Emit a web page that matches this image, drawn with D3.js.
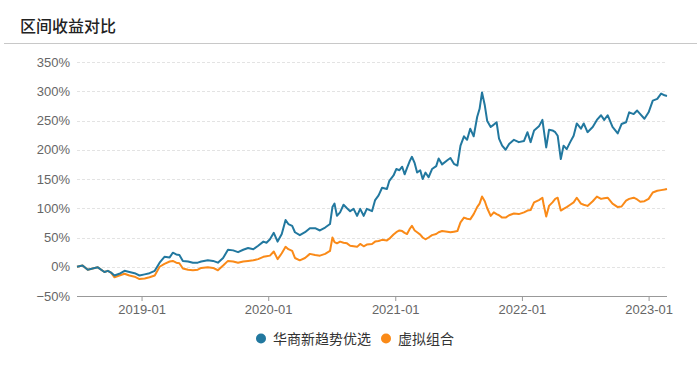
<!DOCTYPE html>
<html><head><meta charset="utf-8">
<script src="https://cdn.jsdelivr.net/npm/d3@7/dist/d3.min.js"></script>
<style>
html,body{margin:0;padding:0;background:#fff;}
svg{display:block;font-family:"Liberation Sans","Noto Sans CJK SC",Arial,sans-serif;}
</style></head>
<body>
<svg id="chart" width="697" height="366"></svg>
<script>
const title = "区间收益对比";
const seriesNames = ["华商新趋势优选", "虚拟组合"];
const seriesColors = ["#22789f", "#fa8a18"];
const yTicks = [-50, 0, 50, 100, 150, 200, 250, 300, 350];
const xTickLabels = ["2019-01", "2020-01", "2021-01", "2022-01", "2023-01"];

const dates = [
"2018-06-29","2018-07-15","2018-07-30","2018-08-13","2018-08-28","2018-09-16","2018-09-26","2018-10-05","2018-10-15","2018-10-29",
"2018-11-13","2018-11-27","2018-12-12","2018-12-26","2019-01-10","2019-01-24","2019-02-08","2019-02-22","2019-03-08","2019-03-23",
"2019-04-01","2019-04-11","2019-04-20","2019-04-30","2019-05-15","2019-05-29","2019-06-12","2019-06-22","2019-07-11","2019-07-26",
"2019-08-09","2019-08-24","2019-09-07","2019-09-22","2019-10-06","2019-10-21","2019-11-04","2019-11-19","2019-12-03","2019-12-18",
"2019-12-27","2020-01-06","2020-01-17","2020-01-28","2020-02-09","2020-02-20","2020-02-28","2020-03-10","2020-03-18","2020-04-01",
"2020-04-16","2020-04-30","2020-05-15","2020-05-29","2020-06-13","2020-06-27","2020-07-04","2020-07-10","2020-07-17","2020-07-26",
"2020-08-05","2020-08-15","2020-08-24","2020-09-03","2020-09-13","2020-09-22","2020-10-02","2020-10-11","2020-10-26","2020-11-04",
"2020-11-14","2020-11-24","2020-12-08","2020-12-15","2020-12-27","2021-01-04","2021-01-13","2021-01-21","2021-01-28","2021-02-04",
"2021-02-12","2021-02-18","2021-02-26","2021-03-05","2021-03-14","2021-03-21","2021-03-29","2021-04-07","2021-04-17","2021-04-29",
"2021-05-06","2021-05-16","2021-05-31","2021-06-09","2021-06-19","2021-06-29","2021-07-08","2021-07-18","2021-07-27","2021-08-05",
"2021-08-15","2021-08-25","2021-09-01","2021-09-08","2021-09-16","2021-09-23","2021-10-03","2021-10-12","2021-10-20","2021-10-27",
"2021-11-05","2021-11-15","2021-11-25","2021-12-09","2021-12-23","2022-01-07","2022-01-17","2022-01-26","2022-02-05","2022-02-19",
"2022-03-01","2022-03-05","2022-03-12","2022-03-20","2022-03-30","2022-04-07","2022-04-14","2022-04-23","2022-05-01","2022-05-10",
"2022-05-20","2022-05-30","2022-06-08","2022-06-20","2022-06-28","2022-07-09","2022-07-24","2022-08-05","2022-08-17","2022-08-26",
"2022-09-05","2022-09-19","2022-10-04","2022-10-15","2022-10-28","2022-11-06","2022-11-19","2022-11-29","2022-12-08","2022-12-20",
"2023-01-01","2023-01-13","2023-01-26","2023-02-06","2023-02-16","2023-02-23"
];

const fundValues = [
0,2,-5,-3,-1,-9,-7,-10,-15,-12,
-7,-9,-11,-15,-13,-11,-7,7,17,16,
24,21,20,10,9,7,7,9,11,10,
7,15,29,28,25,29,32,30,36,43,
41,47,58,43,56,80,73,70,59,54,
59,66,66,62,67,73,102,108,87,93,
106,100,95,99,87,99,87,99,95,114,
122,135,133,147,156,167,165,171,158,169,
181,188,177,161,165,150,161,153,167,172,
185,175,182,186,176,173,207,223,217,236,
223,256,270,298,276,249,239,243,247,219,
207,200,210,217,213,215,230,213,233,240,
251,234,204,234,233,230,224,184,207,201,
213,224,245,236,245,230,239,251,259,251,
259,239,228,244,247,264,261,267,261,253,
264,284,287,296,293,292
];

const virtualValues = [
0,2,-5,-3,-1,-9,-7,-10,-18,-15,
-12,-15,-17,-21,-20,-18,-15,0,5,9,
10,7,6,-3,-5,-6,-5,-2,-1,-2,
-6,2,10,9,7,9,10,11,13,17,
18,19,26,13,23,34,30,27,15,11,
15,22,20,19,22,27,50,42,40,43,
41,40,36,35,34,39,35,38,39,43,
44,46,45,48,55,59,62,61,58,56,
65,70,62,59,55,50,47,50,54,56,
59,61,60,59,60,61,76,84,82,81,
90,102,108,120,112,100,87,93,90,88,
84,84,88,91,90,93,96,97,110,114,
118,105,86,104,110,116,118,96,99,102,
106,110,118,108,106,104,112,120,116,117,
118,108,102,103,113,116,118,115,111,112,
116,127,130,131,132,133
];

const parse = d3.timeParse("%Y-%m-%d");
const data = dates.map((d, i) => ({date: parse(d), a: fundValues[i], b: virtualValues[i]}));

const svg = d3.select("#chart");
const margin = {left: 77, right: 667, top: 62, bottom: 296};

// title
svg.append("text").attr("x", 20).attr("y", 32)
  .attr("font-size", 16).attr("font-weight", 500).attr("fill", "#222")
  .attr("font-family", "'Noto Sans CJK SC', sans-serif")
  .text(title);
svg.append("line").attr("x1", 4).attr("x2", 697).attr("y1", 43.5).attr("y2", 43.5)
  .attr("stroke", "#c8c8c8").attr("stroke-width", 1);

const x = d3.scaleTime().domain(d3.extent(data, d => d.date)).range([margin.left, margin.right]);
const y = d3.scaleLinear().domain([-50, 350]).range([margin.bottom, margin.top]);

// grid
svg.append("g").selectAll("line").data(yTicks.filter(t => t !== -50)).join("line")
  .attr("x1", margin.left).attr("x2", margin.right)
  .attr("y1", d => Math.round(y(d)) + 0.5).attr("y2", d => Math.round(y(d)) + 0.5)
  .attr("stroke", "#e3e3e3").attr("stroke-dasharray", "3,2");

// y axis labels
const yAxis = d3.axisLeft(y).tickValues(yTicks).tickSize(0).tickPadding(7)
  .tickFormat(d => (d < 0 ? "\u2212" + Math.abs(d) : d) + "%");
const gy = svg.append("g").attr("transform", `translate(${margin.left},0)`).call(yAxis);
gy.select(".domain").remove();
gy.selectAll("text").attr("font-size", 13).attr("fill", "#666")
  .attr("font-family", "'Liberation Sans', Arial, sans-serif");

// x axis
const xTickDates = xTickLabels.map(s => parse(s + "-01"));
const xAxis = d3.axisBottom(x).tickValues(xTickDates).tickSize(5).tickPadding(4)
  .tickFormat((d, i) => xTickLabels[i]);
const gx = svg.append("g").attr("transform", `translate(0,${margin.bottom})`).call(xAxis);
gx.select(".domain").attr("stroke", "#999").attr("d", `M${margin.left},0.5H${margin.right}`);
gx.selectAll(".tick line").attr("stroke", "#999");
gx.selectAll("text").attr("font-size", 13).attr("fill", "#666")
  .attr("font-family", "'Liberation Sans', Arial, sans-serif");

// lines
const lineA = d3.line().x(d => x(d.date)).y(d => y(d.a));
const lineB = d3.line().x(d => x(d.date)).y(d => y(d.b));
svg.append("path").datum(data).attr("d", lineB).attr("fill", "none")
  .attr("stroke", seriesColors[1]).attr("stroke-width", 2).attr("stroke-linejoin", "round");
svg.append("path").datum(data).attr("d", lineA).attr("fill", "none")
  .attr("stroke", seriesColors[0]).attr("stroke-width", 2).attr("stroke-linejoin", "round");

// legend
const legend = svg.append("g").attr("font-family", "'Noto Sans CJK SC', sans-serif");
const legendX = [261, 386];
seriesNames.forEach((name, i) => {
  legend.append("circle").attr("cx", legendX[i]).attr("cy", 338.5).attr("r", 5).attr("fill", seriesColors[i]);
  legend.append("text").attr("x", legendX[i] + 12).attr("y", 343.5).attr("font-size", 14)
    .attr("fill", "#333").text(name);
});
</script>
</body></html>
